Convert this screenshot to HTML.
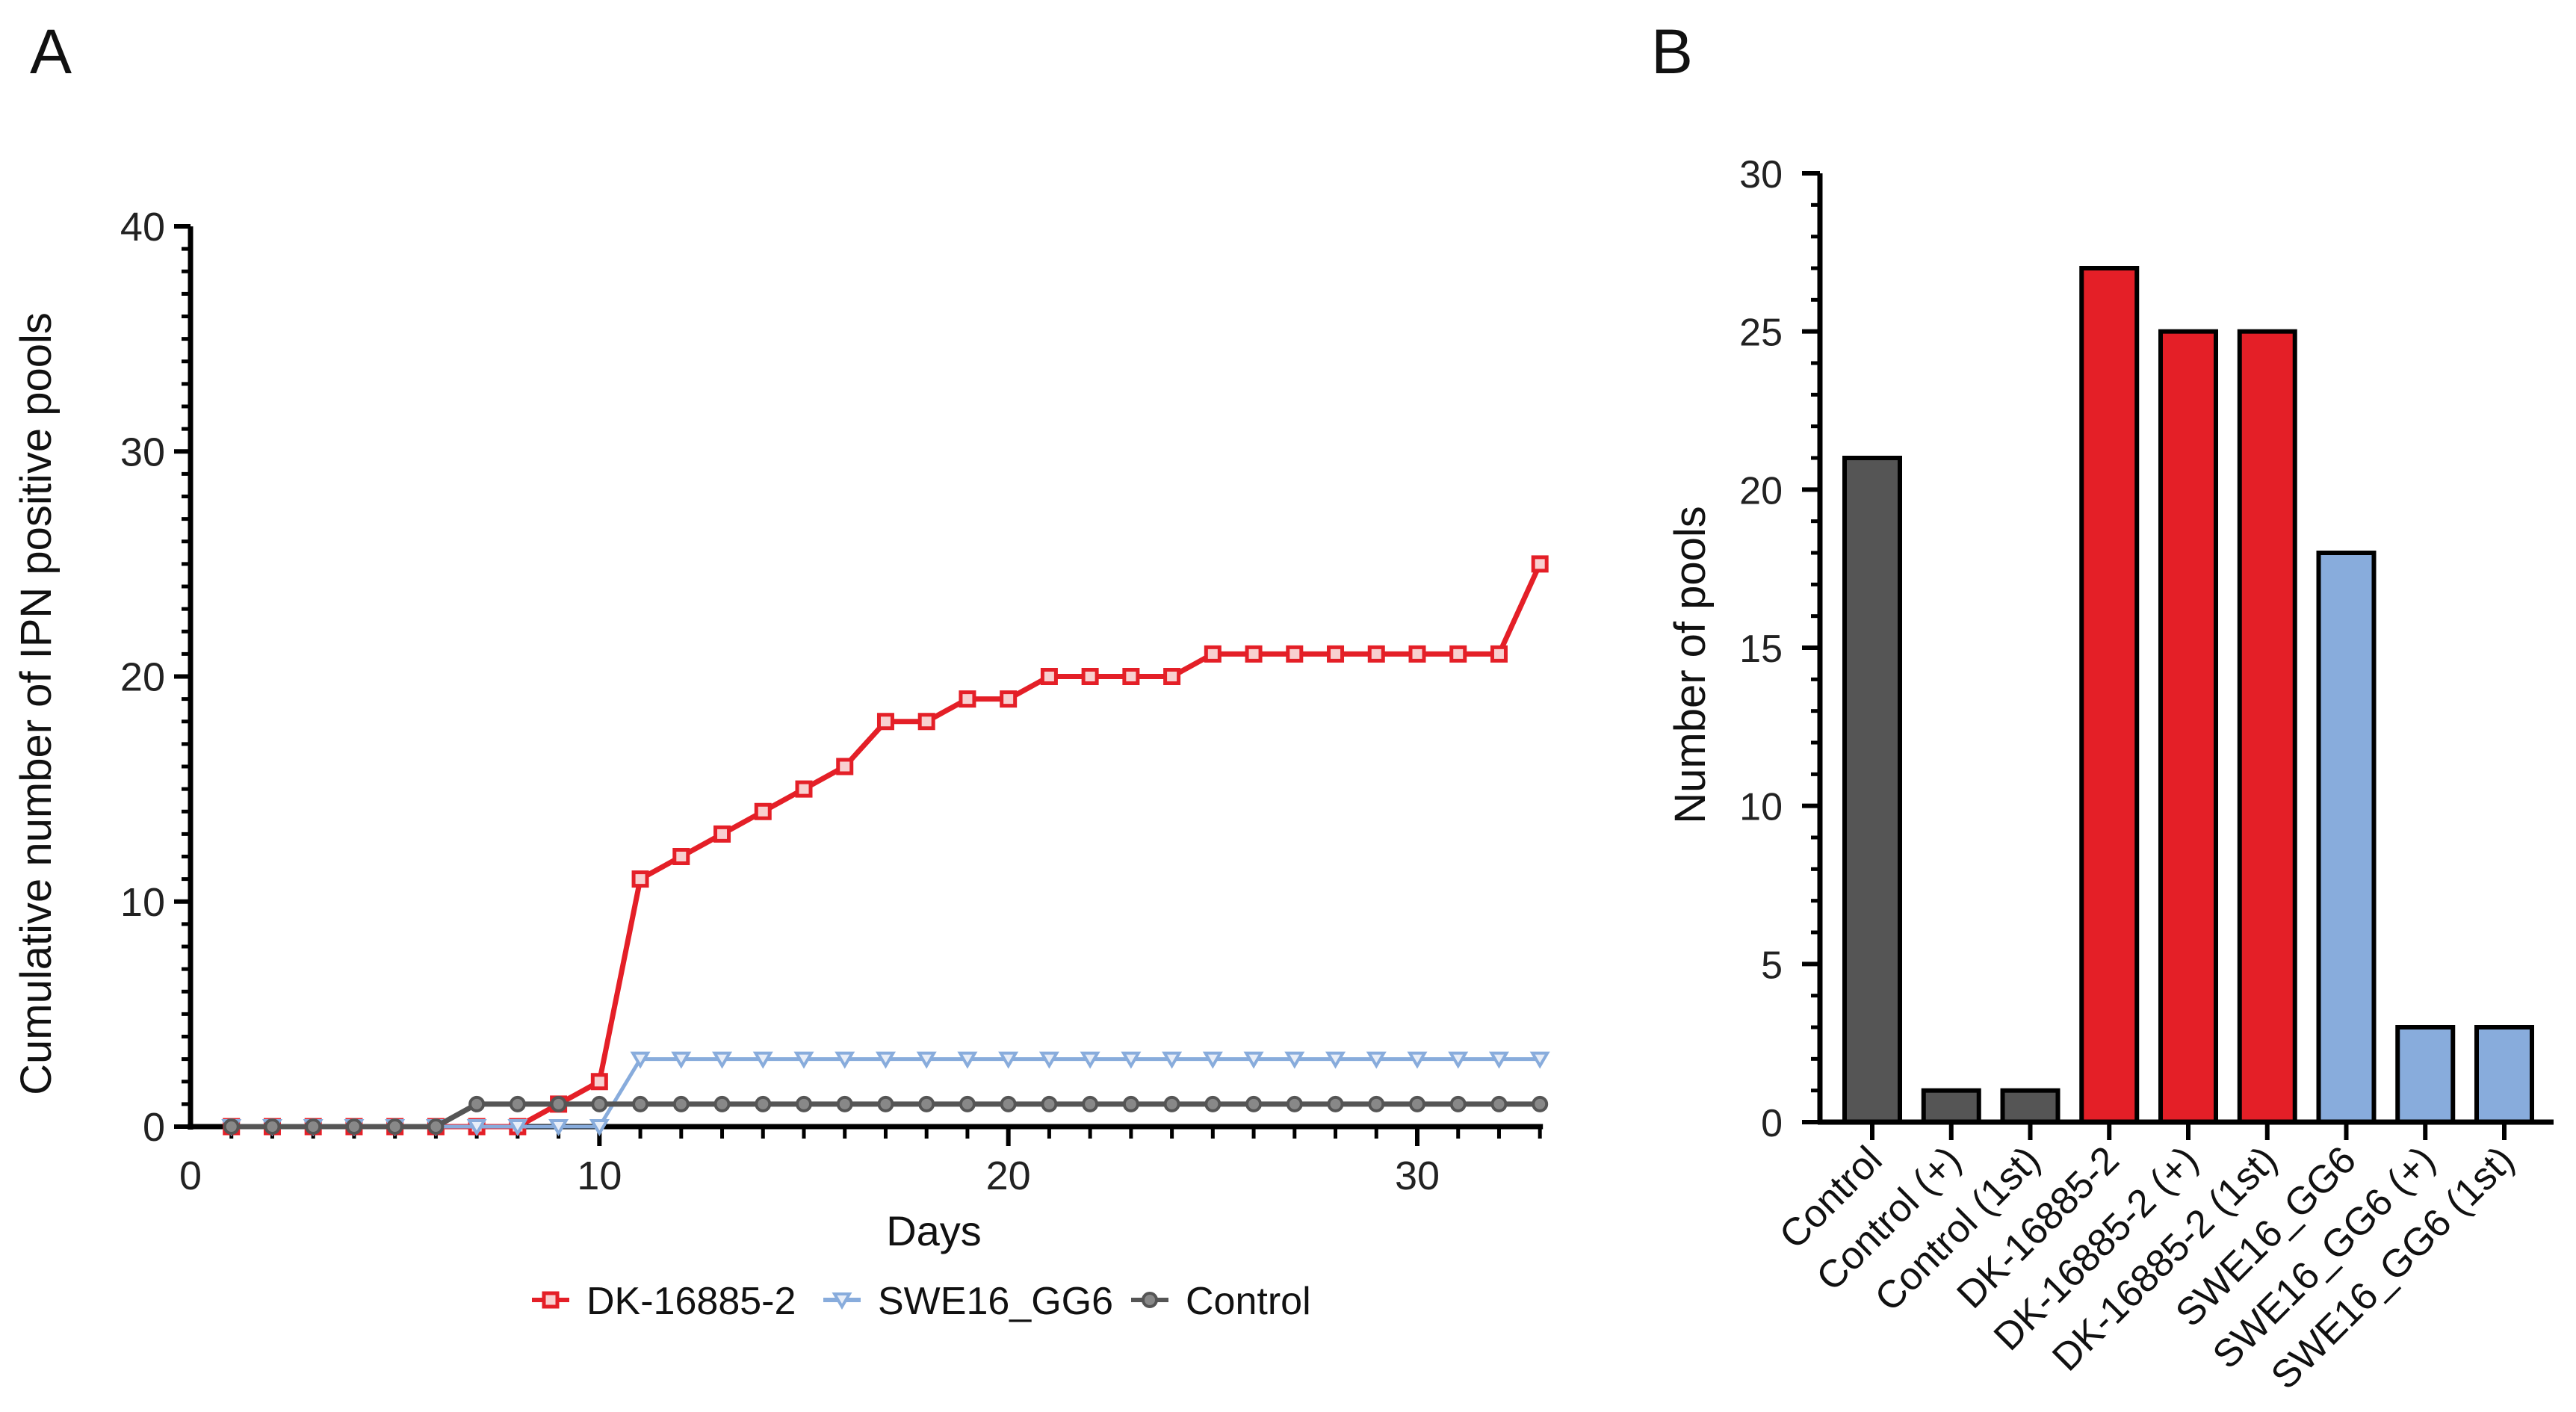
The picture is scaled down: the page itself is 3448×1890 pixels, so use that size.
<!DOCTYPE html>
<html><head><meta charset="utf-8"><style>
html,body{margin:0;padding:0;background:#fff;}
svg{display:block;font-family:"Liberation Sans",Arial,sans-serif;}
</style></head><body>
<svg id="fig" width="3448" height="1890" viewBox="0 0 3448 1890" xmlns="http://www.w3.org/2000/svg">
<text x="40" y="98" font-size="84" fill="#111">A</text>
<text x="2210" y="98" font-size="84" fill="#111">B</text>
<g id="pa"></g>
<g id="pb"></g>
</svg>
<script>
const days = [1,2,3,4,5,6,7,8,9,10,11,12,13,14,15,16,17,18,19,20,21,22,23,24,25,26,27,28,29,30,31,32,33];
const dkValues = [0,0,0,0,0,0,0,0,1,2,11,12,13,14,15,16,18,18,19,19,20,20,20,20,21,21,21,21,21,21,21,21,25];
const sweValues = [0,0,0,0,0,0,0,0,0,0,3,3,3,3,3,3,3,3,3,3,3,3,3,3,3,3,3,3,3,3,3,3,3];
const ctrlValues = [0,0,0,0,0,0,1,1,1,1,1,1,1,1,1,1,1,1,1,1,1,1,1,1,1,1,1,1,1,1,1,1,1];
const xTicksA = [0,10,20,30];
const yTicksA = [0,10,20,30,40];
const barCategories = ["Control","Control (+)","Control (1st)","DK-16885-2","DK-16885-2 (+)","DK-16885-2 (1st)","SWE16_GG6","SWE16_GG6 (+)","SWE16_GG6 (1st)"];
const barValues = [21,1,1,27,25,25,18,3,3];
const barGroups = ["ctrl","ctrl","ctrl","dk","dk","dk","swe","swe","swe"];
const yTicksB = [0,5,10,15,20,25,30];

const NS="http://www.w3.org/2000/svg";
const COL={dk:"#e41f27",swe:"#88acdc",ctrl:"#555555"};
function mk(parent,tag,attrs){const e=document.createElementNS(NS,tag);for(const k in attrs)e.setAttribute(k,attrs[k]);parent.appendChild(e);return e;}

// Panel A
const pa=document.getElementById('pa');
const ax0=255, ay0=1508, ay40=303;
const xA=d=>ax0+(d-0)*(1897-255)/30;
const yA=v=>ay0-(v/40)*(ay0-ay40);
let e;
e=mk(pa,'line',{x1:ax0,y1:yA(40),x2:ax0,y2:ay0+4,stroke:'#000','stroke-width':7});


e=mk(pa,'line',{x1:ax0-4,y1:ay0,x2:xA(33)+4,y2:ay0,stroke:'#000','stroke-width':7});


for(let v=0;v<=40;v++){const maj=v%10===0;mk(pa,'line',{x1:ax0-(maj?22:12),y1:yA(v),x2:ax0,y2:yA(v),stroke:'#000','stroke-width':maj?6:5});}
for(let d=1;d<=33;d++){const maj=d%10===0;mk(pa,'line',{x1:xA(d),y1:ay0,x2:xA(d),y2:ay0+(maj?26:16),stroke:'#000','stroke-width':maj?6:5});}
yTicksA.forEach(v=>{const t=mk(pa,'text',{x:ax0-34,y:yA(v)+19,'font-size':54,'text-anchor':'end',fill:'#222'});t.textContent=v;

});
xTicksA.forEach(v=>{const t=mk(pa,'text',{x:xA(v),y:1592,'font-size':54,'text-anchor':'middle',fill:'#222'});t.textContent=v;

});
e=mk(pa,'text',{x:1250,y:1667,'font-size':56,'text-anchor':'middle',fill:'#111'});e.textContent='Days';


e=mk(pa,'text',{x:0,y:0,'font-size':58,'text-anchor':'middle',fill:'#111',transform:'translate(68,942) rotate(-90)'});e.textContent='Cumulative number of IPN positive pools';



function marker(g,kind,x,y){
  if(kind==='dk') return mk(g,'rect',{x:x-9,y:y-9,width:18,height:18,fill:'#f8d0d0',stroke:COL.dk,'stroke-width':5});
  if(kind==='swe') return mk(g,'path',{d:`M${x-10},${y-8} L${x+10},${y-8} L${x},${y+9} Z`,fill:'#e8eef8',stroke:COL.swe,'stroke-width':4});
  return mk(g,'circle',{cx:x,cy:y,r:9,fill:'#888',stroke:COL.ctrl,'stroke-width':4});
}
function series(vals,kind,name){
  const g=mk(pa,'g',{});
  
  
  const pts=days.map((d,i)=>xA(d)+','+yA(vals[i])).join(' ');
  mk(g,'polyline',{points:pts,fill:'none',stroke:COL[kind],'stroke-width':kind==='swe'?5:7,'stroke-linejoin':'round'});
  days.forEach((d,i)=>{const m=marker(g,kind,xA(d),yA(vals[i]));
    
    });
}
series(dkValues,'dk','series-dk-16885-2');
series(sweValues,'swe','series-swe16-gg6');
series(ctrlValues,'ctrl','series-control');

// legend
const legend=[['dk','DK-16885-2',737],['swe','SWE16_GG6',1127],['ctrl','Control',1539]];
legend.forEach(([k,label,x])=>{
  const g=mk(pa,'g',{});
  
  
  mk(g,'line',{x1:x-25,y1:1740,x2:x+25,y2:1740,stroke:COL[k],'stroke-width':6});
  marker(g,k,x,1740);
  const t=mk(g,'text',{x:x+48,y:1759,'font-size':52,fill:'#111'});t.textContent=label;
});

// Panel B
const pb=document.getElementById('pb');
const bx0=2436, bxEnd=3418, by0=1502, by30=232;
const yB=v=>by0-(v/30)*(by0-by30);
const xB=i=>2506+i*105.75;
const bw=74;
barValues.forEach((v,i)=>{
  const r=mk(pb,'rect',{x:xB(i)-bw/2,y:yB(v),width:bw,height:by0-yB(v),fill:COL[barGroups[i]],stroke:'#000','stroke-width':6});
  
  
});
e=mk(pb,'line',{x1:bx0,y1:by30,x2:bx0,y2:by0+3,stroke:'#000','stroke-width':7});


e=mk(pb,'line',{x1:bx0-3,y1:by0,x2:bxEnd,y2:by0,stroke:'#000','stroke-width':7});


for(let v=0;v<=30;v++){const maj=v%5===0;mk(pb,'line',{x1:bx0-(maj?24:12),y1:yB(v),x2:bx0,y2:yB(v),stroke:'#000','stroke-width':maj?6:5});}
yTicksB.forEach(v=>{const t=mk(pb,'text',{x:2386,y:yB(v)+19,'font-size':52,'text-anchor':'end',fill:'#222'});t.textContent=v;

});
barCategories.forEach((c,i)=>{
  mk(pb,'line',{x1:xB(i),y1:by0,x2:xB(i),y2:by0+24,stroke:'#000','stroke-width':6});
  const t=mk(pb,'text',{x:0,y:0,'font-size':52,'text-anchor':'end',fill:'#111',transform:`translate(${xB(i)+16},${by0+54}) rotate(-45)`});t.textContent=c;
  
  
});
e=mk(pb,'text',{x:0,y:0,'font-size':58,'text-anchor':'middle',fill:'#111',transform:'translate(2282,890) rotate(-90)'});e.textContent='Number of pools';


</script>
</body></html>
